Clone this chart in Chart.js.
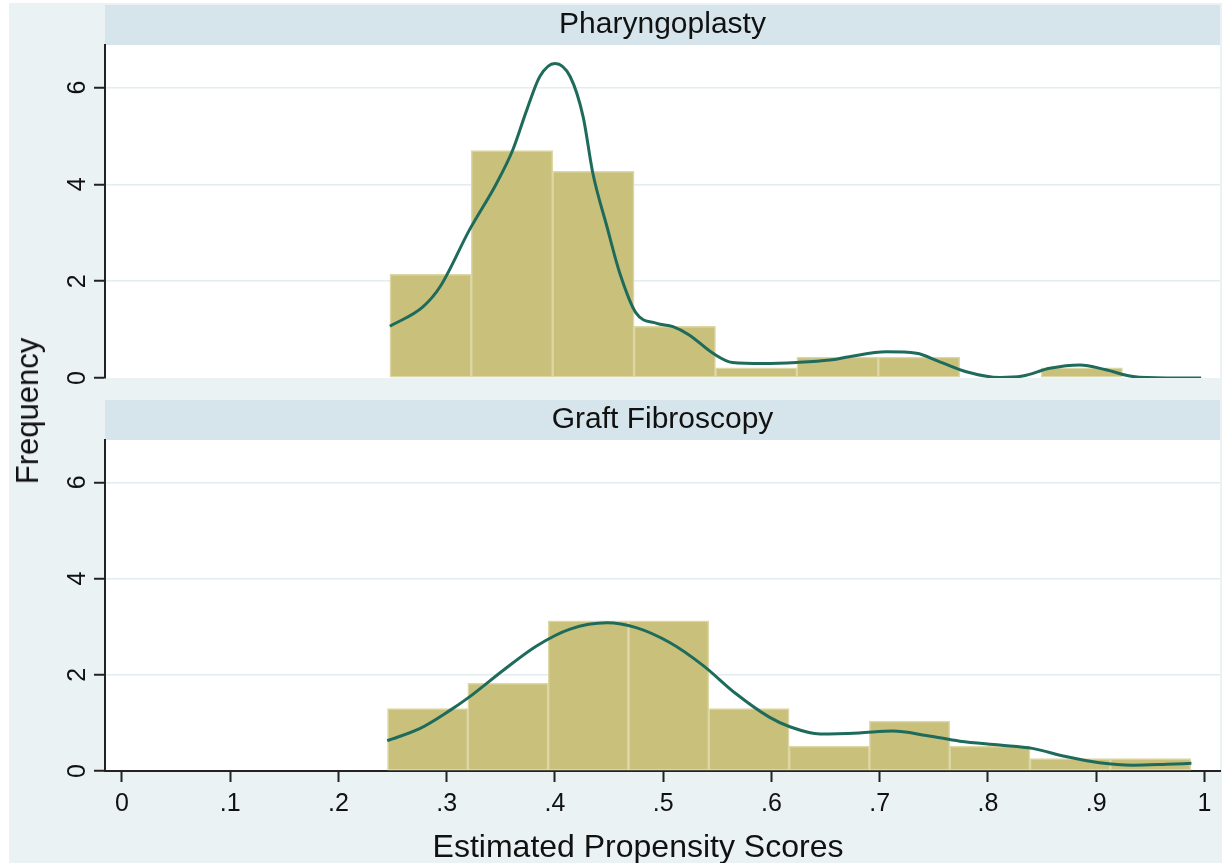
<!DOCTYPE html>
<html>
<head>
<meta charset="utf-8">
<script src="https://cdn.jsdelivr.net/npm/chart.js@4.4.0/dist/chart.umd.min.js"></script>
<style>
  html, body { margin: 0; padding: 0; background: #fff; }
  #page { position: relative; width: 1224px; height: 863px; overflow: hidden; }
  #bg { position: absolute; left: 9px; top: 3px; width: 1213px; height: 860px; background: #eaf2f4; }
  canvas { position: absolute; left: 0; }
  #ylab {
    position: absolute; left: 28px; top: 411px; line-height: 1;
    transform: translate(-50%, -50%) rotate(-90deg);
    font: 31px "Liberation Sans", Arial, sans-serif; color: #111; white-space: nowrap;
  }
</style>
</head>
<body>
<div id="page">
  <div id="bg"></div>
  <canvas id="top" width="1224" height="392" style="top:0"></canvas>
  <canvas id="bottom" width="1224" height="471" style="top:392px"></canvas>
  <div id="ylab">Frequency</div>
</div>
<script>
const FONT = '"Liberation Sans", Arial, Helvetica, sans-serif';

const panelTitles = ['Pharyngoplasty', 'Graft Fibroscopy'];
const xTitle = 'Estimated Propensity Scores';

// histogram bins (centres) and heights
const binsPharyngo = [0.2851, 0.3603, 0.4355, 0.5107, 0.5859, 0.6611, 0.7363, 0.8115, 0.8867];
const freqPharyngo = [2.14, 4.70, 4.27, 1.07, 0.21, 0.43, 0.43, 0, 0.21];
const binsGraft = [0.2824, 0.3566, 0.4308, 0.5050, 0.5792, 0.6534, 0.7276, 0.8018, 0.8760, 0.9502];
const freqGraft = [1.30, 1.82, 3.12, 3.12, 1.30, 0.52, 1.04, 0.52, 0.26, 0.26];

// kernel density overlay
const kdeXPharyngo = [0.2475, 0.278, 0.294, 0.321, 0.346, 0.361, 0.374, 0.386, 0.400, 0.414, 0.426, 0.435,
  0.448, 0.460, 0.475, 0.494, 0.509, 0.524, 0.546, 0.564, 0.592, 0.623, 0.654, 0.672, 0.706, 0.734,
  0.755, 0.780, 0.811, 0.832, 0.857, 0.885, 0.909, 0.934, 0.965, 0.997];
const kdeYPharyngo = [1.07, 1.47, 1.89, 3.06, 4.02, 4.71, 5.54, 6.23, 6.50, 6.23, 5.40, 4.23,
  3.13, 2.16, 1.34, 1.13, 1.06, 0.89, 0.51, 0.32, 0.30, 0.32, 0.37, 0.44, 0.54, 0.51,
  0.34, 0.13, 0.01, 0.04, 0.20, 0.27, 0.17, 0.03, 0.00, 0.00];
const kdeXGraft = [0.245, 0.275, 0.303, 0.321, 0.352, 0.383, 0.414, 0.448, 0.475, 0.506, 0.537, 0.567,
  0.598, 0.617, 0.645, 0.681, 0.712, 0.743, 0.774, 0.811, 0.841, 0.872, 0.903, 0.934, 0.965, 0.988];
const kdeYGraft = [0.63, 0.88, 1.26, 1.54, 2.09, 2.60, 2.95, 3.08, 2.98, 2.67, 2.19, 1.61,
  1.12, 0.92, 0.77, 0.79, 0.83, 0.74, 0.62, 0.54, 0.47, 0.30, 0.17, 0.12, 0.14, 0.16];

const xTicks = [0, 0.1, 0.2, 0.3, 0.4, 0.5, 0.6, 0.7, 0.8, 0.9, 1];
const xTickLabels = ['0', '.1', '.2', '.3', '.4', '.5', '.6', '.7', '.8', '.9', '1'];
const yTicks = [0, 2, 4, 6];

// strip with the panel name above the plot, white plot region
const panelPlugin = {
  id: 'panel',
  beforeDraw(chart, args, opts) {
    const { ctx, chartArea: a } = chart;
    ctx.save();
    ctx.fillStyle = '#ffffff';
    ctx.fillRect(a.left, a.top, a.right - a.left, a.bottom - a.top);
    ctx.fillStyle = '#d6e5eb';
    ctx.fillRect(a.left, a.top - 40, a.right - a.left, 40);
    ctx.fillStyle = '#111';
    ctx.font = '30px ' + FONT;
    ctx.textAlign = 'center';
    ctx.textBaseline = 'middle';
    ctx.fillText(opts.title, (a.left + a.right) / 2, a.top - 20);
    ctx.restore();
  },
  afterDraw(chart, args, opts) {
    if (!opts.xTitle) return;
    const ctx = chart.ctx;
    ctx.save();
    ctx.fillStyle = '#111';
    ctx.font = '32px ' + FONT;
    ctx.textAlign = 'center';
    ctx.textBaseline = 'middle';
    ctx.fillText(opts.xTitle, 638, chart.height - 15);
    ctx.restore();
  }
};

function makePanel(id, title, bins, freq, kdeX, kdeY, showX) {
  return new Chart(document.getElementById(id), {
    type: 'bar',
    data: {
      datasets: [
        {
          type: 'line',
          data: kdeX.map((x, i) => ({ x: x, y: kdeY[i] })),
          borderColor: '#1e6b5c',
          borderWidth: 3,
          pointRadius: 0,
          cubicInterpolationMode: 'monotone',
          order: 0
        },
        {
          type: 'bar',
          data: bins.map((x, i) => ({ x: x, y: freq[i] })),
          backgroundColor: '#c9c17b',
          borderColor: '#ddd7a6',
          borderWidth: 1.5,
          borderSkipped: false,
          barPercentage: 1,
          categoryPercentage: 1,
          order: 1
        }
      ]
    },
    options: {
      responsive: false,
      animation: false,
      layout: { padding: { top: showX ? 48 : 45, right: 4, bottom: showX ? 0 : 14, left: 0 } },
      plugins: {
        legend: { display: false },
        tooltip: { enabled: false },
        panel: { title: title, xTitle: showX ? xTitle : null }
      },
      scales: {
        x: {
          type: 'linear',
          display: showX,
          min: -0.0157,
          max: 1.0144,
          offset: false,
          afterBuildTicks: ax => { ax.ticks = xTicks.map(v => ({ value: v })); },
          afterFit: ax => {
            if (!showX) return;
            ax.height = 92; ax.paddingLeft = 0; ax.paddingRight = 0;
          },
          grid: { drawOnChartArea: false, offset: false, tickColor: '#222', tickWidth: 2, tickLength: 11 },
          border: { display: true, color: '#222', width: 2 },
          ticks: {
            font: { size: 25, family: FONT }, color: '#111', padding: 7,
            maxRotation: 0, autoSkip: false,
            callback: (v, i) => xTickLabels[i]
          }
        },
        y: {
          min: 0,
          max: 6.88,
          afterBuildTicks: ax => { ax.ticks = yTicks.map(v => ({ value: v })); },
          afterFit: ax => { ax.width = 105; ax.paddingTop = 0; ax.paddingBottom = 0; },
          grid: {
            color: c => (c.tick && c.tick.value === 0) ? 'rgba(0,0,0,0)' : '#e2edef',
            lineWidth: 1.5, tickColor: '#222', tickWidth: 2, tickLength: 11
          },
          border: { display: true, color: '#222', width: 2 },
          ticks: {
            font: { size: 25, family: FONT }, color: '#111',
            minRotation: 90, maxRotation: 90, crossAlign: 'center', padding: 9
          }
        }
      }
    },
    plugins: [panelPlugin]
  });
}

makePanel('top', panelTitles[0], binsPharyngo, freqPharyngo, kdeXPharyngo, kdeYPharyngo, false);
makePanel('bottom', panelTitles[1], binsGraft, freqGraft, kdeXGraft, kdeYGraft, true);
</script>
</body>
</html>
